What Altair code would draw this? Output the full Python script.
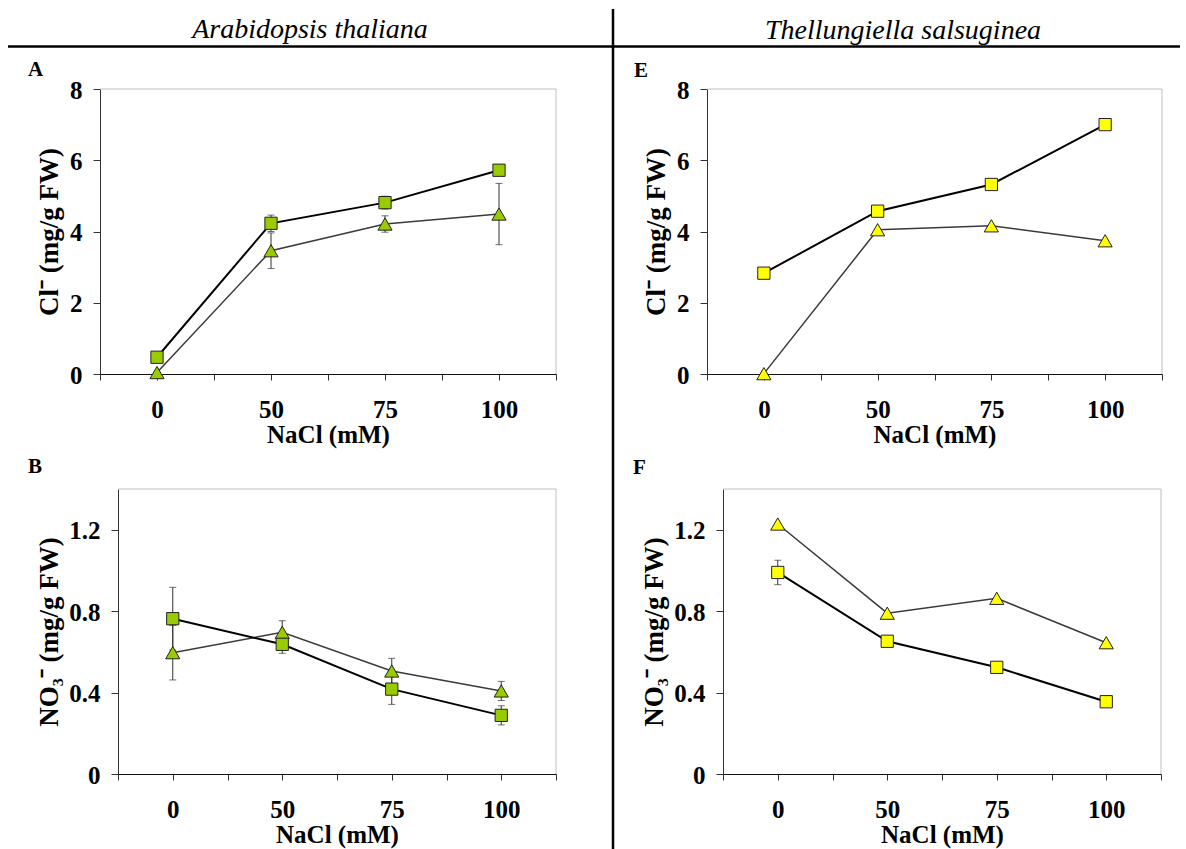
import altair as alt
import pandas as pd

# ---------------- data ----------------
nacl = ["0", "50", "75", "100"]

# A: Cl- (mg/g FW), Arabidopsis thaliana
a_sq = [0.47, 4.23, 4.81, 5.72]
a_sq_err = [0.0, 0.23, 0.18, 0.10]
a_tri = [0.04, 3.46, 4.21, 4.49]
a_tri_err = [0.0, 0.50, 0.23, 0.86]

# B: NO3- (mg/g FW), Arabidopsis thaliana
b_sq = [0.763, 0.637, 0.417, 0.288]
b_sq_err = [0.154, 0.044, 0.075, 0.047]
b_tri = [0.596, 0.696, 0.506, 0.408]
b_tri_err = [0.134, 0.057, 0.062, 0.047]

# E: Cl- (mg/g FW), Thellungiella salsuginea
e_sq = [2.83, 4.57, 5.32, 7.00]
e_sq_err = [0.0, 0.0, 0.0, 0.0]
e_tri = [0.01, 4.05, 4.16, 3.74]
e_tri_err = [0.0, 0.0, 0.0, 0.0]

# F: NO3- (mg/g FW), Thellungiella salsuginea
f_sq = [0.990, 0.652, 0.524, 0.355]
f_sq_err = [0.06, 0.0, 0.0, 0.0]
f_tri = [1.228, 0.790, 0.863, 0.645]
f_tri_err = [0.0, 0.0, 0.0, 0.0]

cl_ticks = [0, 2, 4, 6, 8]
no3_ticks = [0, 0.4, 0.8, 1.2]

# ---------------- layout / style ----------------
W, H = 1186, 849
FONT = "Liberation Serif"
GREEN = "#99cc00"
YELLOW = "#ffff00"
FRAME = "#c0c0c0"


def make_df(vals, errs):
    d = pd.DataFrame({"i": list(range(len(nacl))), "nacl": nacl, "v": vals, "e": errs})
    d["lo"] = d["v"] - d["e"]
    d["hi"] = d["v"] + d["e"]
    return d


def panel(sq, sq_err, tri, tri_err, fill, ymax, yticks, xr, yr, ytitle, title_dx):
    d_sq = make_df(sq, sq_err)
    d_tri = make_df(tri, tri_err)
    xvals = [k / 2 - 0.5 for k in range(2 * len(nacl) + 1)]
    lab = "[" + ",".join("'" + c + "'" for c in nacl) + "]"
    xaxis = alt.Axis(
        orient="bottom", offset=yr[0] - H, values=xvals,
        labelExpr="datum.value % 1 == 0 ? " + lab + "[datum.value] : ''",
        title="NaCl (mM)", titleX=(xr[0] + xr[1]) / 2, titleY=68,
        titleBaseline="alphabetic", titleAlign="center",
        titleFont=FONT, titleFontSize=25, titleFontWeight="bold", titleColor="black",
        labelFont=FONT, labelFontSize=25, labelFontWeight="bold", labelColor="black",
        labelBaseline="alphabetic", labelPadding=37, labelAngle=0,
        labelFlush=False, labelOverlap=False,
        tickSize=6, tickColor="#333333", domainColor="#111111", grid=False,
    )
    yaxis = alt.Axis(
        orient="left", offset=-xr[0], values=yticks,
        labelExpr="format(datum.value, '.2~f')",
        title=ytitle, titleX=title_dx, titleY=(yr[0] + yr[1]) / 2, titleAngle=270,
        titleBaseline="alphabetic", titleAlign="center",
        titleFont=FONT, titleFontSize=27, titleFontWeight="bold", titleColor="black",
        labelFont=FONT, labelFontSize=25, labelFontWeight="bold", labelColor="black",
        labelBaseline="alphabetic", labelOffset=9, labelPadding=11,
        labelFlush=False, labelOverlap=False,
        tickSize=7, tickColor="#333333", domainColor="#333333", grid=False,
    )
    X = alt.X("i:Q", scale=alt.Scale(domain=[-0.5, len(nacl) - 0.5], range=list(xr), nice=False, zero=False), axis=xaxis)

    def Y(field):
        return alt.Y(field + ":Q", scale=alt.Scale(domain=[0, ymax], range=list(yr), nice=False, zero=False), axis=yaxis)

    layers = [
        alt.Chart(d_tri).mark_line(color="#3a3a3a", strokeWidth=1.5).encode(x=X, y=Y("v")),
        alt.Chart(d_sq).mark_line(color="#000000", strokeWidth=2).encode(x=X, y=Y("v")),
    ]
    for d in (d_tri, d_sq):
        de = d[d["e"] > 0]
        if len(de):
            layers.append(alt.Chart(de).mark_rule(color="#333333", strokeWidth=1).encode(x=X, y=Y("lo"), y2=alt.Y2("hi:Q")))
            layers.append(alt.Chart(de).mark_tick(orient="horizontal", size=7, thickness=1, color="#333333").encode(x=X, y=Y("lo")))
            layers.append(alt.Chart(de).mark_tick(orient="horizontal", size=7, thickness=1, color="#333333").encode(x=X, y=Y("hi")))
    layers.append(alt.Chart(d_tri).mark_point(shape="triangle-up", size=200, fill=fill, stroke="#222222",
                                              strokeWidth=1, opacity=1, fillOpacity=1).encode(x=X, y=Y("v")))
    layers.append(alt.Chart(d_sq).mark_point(shape="square", size=150, fill=fill, stroke="#222222",
                                             strokeWidth=1, opacity=1, fillOpacity=1).encode(x=X, y=Y("v")))
    return alt.layer(*layers)


dummy = pd.DataFrame({"k": [0]})


def txt(s, x, y, size, style="normal", weight="normal", align="center"):
    return alt.Chart(dummy).mark_text(text=s, font=FONT, fontSize=size, fontStyle=style, fontWeight=weight,
                                      align=align, baseline="alphabetic", color="black").encode(
        x=alt.value(x), y=alt.value(y))


def hline(x1, x2, y, color, w):
    return alt.Chart(dummy).mark_rule(color=color, strokeWidth=w).encode(
        x=alt.value(x1), x2=alt.value(x2), y=alt.value(y))


def vline(x, y1, y2, color, w):
    return alt.Chart(dummy).mark_rule(color=color, strokeWidth=w).encode(
        x=alt.value(x), y=alt.value(y1), y2=alt.value(y2))


# plot areas (pixel ranges)
A_X, A_Y = (100, 556), (374, 89)
B_X, B_Y = (118, 556), (774, 489)
E_X, E_Y = (707, 1162), (374, 89)
F_X, F_Y = (723, 1161), (774, 489)

deco = [
    txt("Arabidopsis thaliana", 310, 38, 28, style="italic"),
    txt("Thellungiella salsuginea", 903, 39, 28, style="italic"),
    hline(8, 1180, 46.5, "black", 2.5),
    vline(613, 9, 849, "black", 2.5),
    txt("A", 28, 76, 21, weight="bold", align="left"),
    txt("B", 28, 473, 21, weight="bold", align="left"),
    txt("E", 634, 77, 21, weight="bold", align="left"),
    txt("F", 633, 474, 21, weight="bold", align="left"),
]
for (xr, yr) in (A_X, A_Y), (B_X, B_Y), (E_X, E_Y), (F_X, F_Y):
    deco.append(hline(xr[0], xr[1], yr[1], FRAME, 1))
    deco.append(vline(xr[1], yr[1], yr[0], FRAME, 1))

pA = panel(a_sq, a_sq_err, a_tri, a_tri_err, GREEN, 8, cl_ticks, A_X, A_Y, "Cl\u207b (mg/g FW)", 57 - A_X[0])
pB = panel(b_sq, b_sq_err, b_tri, b_tri_err, GREEN, 1.4, no3_ticks, B_X, B_Y, "NO\u2083\u207b (mg/g FW)", 57 - B_X[0])
pE = panel(e_sq, e_sq_err, e_tri, e_tri_err, YELLOW, 8, cl_ticks, E_X, E_Y, "Cl\u207b (mg/g FW)", 57 - A_X[0])
pF = panel(f_sq, f_sq_err, f_tri, f_tri_err, YELLOW, 1.4, no3_ticks, F_X, F_Y, "NO\u2083\u207b (mg/g FW)", 57 - B_X[0])

chart = alt.layer(*deco, pA, pB, pE, pF).resolve_scale(
    x="independent", y="independent"
).properties(
    width=W, height=H, autosize=alt.AutoSizeParams(type="none"), padding=0, background="white"
).configure_view(strokeWidth=0)

chart.save("out.html", embed_options={"renderer": "svg", "actions": False})
